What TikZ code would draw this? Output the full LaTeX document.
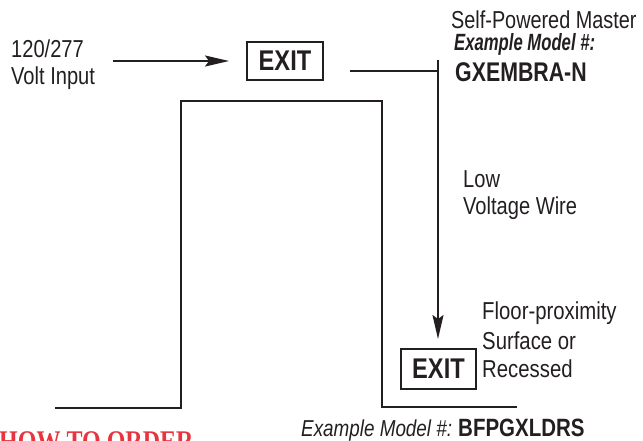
\documentclass[tikz,border=0pt]{standalone}
\usepackage{fontspec}
\usepackage{graphicx}
\setmainfont{Liberation Sans}
\newfontfamily\htofont{Liberation Serif}
\usetikzlibrary{arrows.meta}
\definecolor{ink}{HTML}{231F20}
\definecolor{hred}{HTML}{E8343F}
\newcommand{\sq}[2]{\scalebox{#1}[1]{#2}}
\begin{document}
\begin{tikzpicture}[x=1pt,y=-1pt,
  lbl/.style={inner sep=0pt, anchor=base west, text=ink, font=\fontsize{24.5}{28}\selectfont},
  exitbox/.style={draw=ink, line width=1.2pt, inner sep=0pt, minimum width=76pt, minimum height=38pt,
    text=ink, font=\fontsize{28.5}{30}\selectfont\bfseries},
  wire/.style={draw=ink, line width=2pt},
  wall/.style={draw=ink, line width=2.2pt, line join=miter},
  tip/.style={-{Stealth[length=24pt,width=11pt,inset=4pt]}}
]
\useasboundingbox (0,0) rectangle (643,440);
\clip (0,0) rectangle (643,440);

% input text
\node[lbl] (in1) at (11,57) {\sq{0.82}{120/277}};
\node[lbl] (in2) at (11,84) {\sq{0.82}{Volt Input}};

% exit signs
\node[exitbox] (exitA) at (285,61) {\sq{0.83}{EXIT}};
\node[exitbox, minimum height=40pt, minimum width=75pt] (exitB) at (438.5,369) {\sq{0.83}{EXIT}};

% input arrow
\coordinate (arrS) at (113,61);
\coordinate (arrE) at (229,61);
\draw[wire,tip] (arrS) -- (arrE);

% low voltage wire
\coordinate (wS) at (350,71);
\coordinate (wC) at (438,71);
\coordinate (wTop) at (438,60);
\coordinate (wEnd) at (438,339);
\draw[wire] (wS) -- (wC);
\draw[wire,tip] (wTop) -- (wEnd);

% wall outline
\coordinate (o1) at (55,408);
\coordinate (o2) at (181,408);
\coordinate (o3) at (181,101);
\coordinate (o4) at (382,101);
\coordinate (o5) at (382,407);
\coordinate (o6) at (517,407);
\draw[wall] (o1) -- (o2) -- (o3) -- (o4) -- (o5) -- (o6);

% master labels
\node[lbl] (m1) at (451,28) {\sq{0.81}{Self-Powered Master}};
\node[lbl, font=\fontsize{23.5}{26}\selectfont\bfseries\itshape] (m2) at (454,50) {\sq{0.71}{Example Model \#:}};
\node[lbl, font=\fontsize{27}{30}\selectfont\bfseries] (m3) at (455,81) {\sq{0.79}{GXEMBRA-N}};

% wire label
\node[lbl] (lw1) at (463,187) {\sq{0.82}{Low}};
\node[lbl] (lw2) at (463,214) {\sq{0.82}{Voltage Wire}};

% floor-proximity labels
\node[lbl] (f1) at (482,319) {\sq{0.83}{Floor-proximity}};
\node[lbl] (f2) at (482,349) {\sq{0.83}{Surface or}};
\node[lbl] (f3) at (482,377) {\sq{0.83}{Recessed}};

% bottom model
\node[lbl, font=\fontsize{23}{26}\selectfont\itshape] (b1) at (301,436) {\sq{0.82}{Example Model \#:}};
\node[lbl, font=\fontsize{25}{28}\selectfont\bfseries] (b2) at (458,436) {\sq{0.82}{BFPGXLDRS}};

% how to order (cut off at the bottom edge, as in the reference)
\node[inner sep=0pt, anchor=base west, text=hred, font=\fontsize{30}{32}\selectfont\htofont\bfseries] (hto) at (-1,451) {\sq{0.8}{HOW TO ORDER}};
\end{tikzpicture}
\end{document}
